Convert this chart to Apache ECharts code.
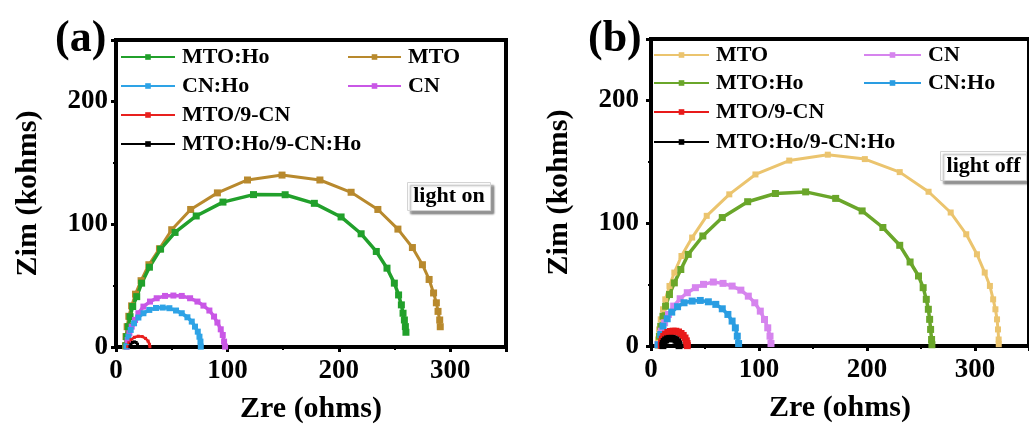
<!DOCTYPE html>
<html>
<head>
<meta charset="utf-8">
<script src="https://cdn.jsdelivr.net/npm/echarts@6/dist/echarts.min.js"></script>
<style>
  html, body { margin: 0; padding: 0; background: #fff; }
  #chart { width: 1029px; height: 432px; }
</style>
</head>
<body>
<div id="chart"></div>
<script>
// Nyquist plots, Zre (ohms) vs Zim (kohms): [Zre, Zim] pairs, left to right along each arc.

// (a) light on
const onMtoHo = [[9,1],[9.6,8.4],[11,16.6],[12.6,24.7],[15,33],[18.6,41],[23,52],[30,65],[40,79.7],[53,93.3],[72,106.7],[96,118],[123.4,124.1],[151.8,124],[178,117],[202,105.9],[220,92.2],[233.6,77.8],[243.2,64.2],[249.8,52],[253.6,42.4],[256.1,34.3],[257.6,27.5],[258.8,22],[259.7,16.6],[260.2,12]];
const onMto = [[8.5,1],[9,8.5],[10,16.5],[11.5,25],[14,33.5],[17.5,43],[22.5,54],[29.5,67],[39,80],[50,95.5],[67,112],[91,125.5],[118,136],[149,140],[183,136],[211,126],[235,112],[253,96],[266,81],[275,67],[281,55],[285,44],[287.5,36],[289,29],[290.5,22],[291,16.5]];
const onCnHo = [[9.5,0.5],[11.1,8.4],[13.2,13.9],[16.2,19.3],[20.1,24],[24.6,27.5],[29.9,30.2],[35.9,31.8],[41.9,32.1],[47.9,31.6],[53.9,29.7],[59,27.5],[64.1,24.2],[68,20.7],[70.9,16.6],[73.4,12.5],[74.9,8.4],[75.8,4.4],[76.1,0.3]];
const onCn = [[9.6,0.3],[10.5,5.7],[12,11.2],[14.1,16.6],[17.1,22],[20.1,27.5],[24.6,32.9],[30.5,37],[36.5,39.7],[44,41.6],[51.5,41.9],[59,41.6],[66.5,39.7],[73.1,37],[78.5,33.7],[83.8,29.7],[88,24.8],[91,19.9],[94,14.4],[95.8,9.8],[97,4.4],[97.9,0.3]];
const onMto9Cn = [[10.5,0.3],[11.5,3.5],[13.5,6],[16.5,7.9],[20,8.8],[23.5,8.5],[26.5,7],[28.8,4.8],[30,2.2],[30.4,0.3]];
const onMtoHo9CnHo = [[12.5,0.3],[13.3,2.3],[14.8,3.7],[16.5,4.2],[18.1,3.7],[19.3,2.3],[19.8,0.3]];

// (b) light off
const offMto = [[6.3,0.5],[6.6,5.3],[7.5,13.5],[9,21.7],[11.1,29.9],[13.2,38],[17.1,48.9],[21.6,59.8],[28.2,73.3],[38.1,88.3],[51.6,106],[72.5,123.5],[96.7,139.7],[128,151],[163.7,155.8],[198,152.2],[230.3,141.6],[257,125.6],[277.5,108.7],[291.9,91],[301.8,74.7],[309,59.8],[313.8,48.9],[316.8,38],[318.9,29.9],[320.4,21.7],[321.3,13.5],[321.9,5.3],[322,1.5]];
const offMtoHo = [[7.2,1],[7.8,7.9],[9,16],[11.1,24.2],[13.5,32.4],[17.1,41.9],[21.6,51.4],[27.6,62.3],[34.5,74.6],[48,89.6],[66,104.6],[89.5,117.5],[115.2,124.2],[143.2,125.5],[171,120.2],[195.5,110],[214.7,96.5],[230.3,82],[239.9,68.4],[247.7,57],[252,47.5],[254.9,38],[256.8,29.9],[258,21.7],[258.9,13.5],[259.8,5.3],[260.1,1]];
const offCn = [[6.6,1.2],[9.6,12.1],[12.6,18.9],[16.2,25.7],[21,32.5],[27,38.5],[33.6,43.4],[41.1,47.5],[48.6,50.2],[57.7,52.1],[66.7,51],[75.1,48.8],[83.2,45.5],[90.1,40.6],[96.1,35.2],[101.2,28.4],[105.1,21.6],[108.1,14.8],[110.2,8],[111.1,2]];
const offCnHo = [[6.6,1],[9,9.4],[11.1,16.2],[15,22.2],[19.2,27.6],[24.6,32],[30.6,35.2],[38.1,36.6],[45.6,37.1],[53.1,36],[60,33.9],[66,30.3],[71.2,25.7],[75.1,20.3],[78.1,14.8],[79.9,8],[81.1,2]];
const offMto9Cn = [[9.5,0.5],[9.8,3],[10.5,5.5],[11.8,7.8],[13.5,9.6],[15.6,11],[18,11.8],[20.5,12.1],[23,12],[25.5,11.4],[27.8,10.2],[29.8,8.6],[31.5,6.5],[32.7,4.2],[33.4,2],[33.6,0.3]];
const offMtoHo9CnHo = [[11,0.3],[11.3,2],[12.2,3.6],[13.6,4.9],[15.4,5.8],[17.4,6.2],[19.5,6.2],[21.5,5.7],[23.2,4.7],[24.6,3.3],[25.5,1.7],[26,0.3]];

const FONT = '"Liberation Serif", "Times New Roman", serif';

// series: [panel, label, data, colour, line width, symbol size]
const seriesSpec = [
  [0, 'MTO', onMto, '#b8892d', 3, 7],
  [0, 'MTO:Ho', onMtoHo, '#21a02b', 3.5, 7],
  [0, 'CN', onCn, '#c957e6', 3.5, 6],
  [0, 'CN:Ho', onCnHo, '#2ea3e6', 3.5, 6],
  [0, 'MTO/9-CN', onMto9Cn, '#e8201e', 2.5, 3],
  [0, 'MTO:Ho/9-CN:Ho', onMtoHo9CnHo, '#000000', 2, 3],
  [1, 'MTO', offMto, '#ebc46e', 3, 6],
  [1, 'MTO:Ho', offMtoHo, '#6aa62a', 3.5, 7],
  [1, 'CN', offCn, '#d684ee', 3.5, 7],
  [1, 'CN:Ho', offCnHo, '#2a9de2', 3.5, 7],
  [1, 'MTO/9-CN', offMto9Cn, '#e81a1a', 4.5, 7],
  [1, 'MTO:Ho/9-CN:Ho', offMtoHo9CnHo, '#000000', 4.5, 7]
];

// legend entries: [panel, label, left, top, icon width]
const legendSpec = [
  [0, 'MTO:Ho', 120, 46, 54], [0, 'MTO', 347, 46, 53],
  [0, 'CN:Ho', 120, 75, 54], [0, 'CN', 347, 75, 53],
  [0, 'MTO/9-CN', 120, 104, 54], [0, 'MTO:Ho/9-CN:Ho', 120, 133, 54],
  [1, 'MTO', 653, 44, 55], [1, 'CN', 863, 44, 57],
  [1, 'MTO:Ho', 653, 72, 55], [1, 'CN:Ho', 863, 72, 57],
  [1, 'MTO/9-CN', 653, 101, 55], [1, 'MTO:Ho/9-CN:Ho', 653, 131, 55]
];

const tag = (p, name) => (p === 0 ? 'a|' : 'b|') + name;

const grids = [
  { left: 116, top: 40, width: 390, height: 307 },
  { left: 651, top: 39, width: 389, height: 307 }
];

function xAxisFor(i) {
  return {
    gridIndex: i, type: 'value', min: 0, max: 350, interval: 100,
    name: 'Zre (ohms)', nameLocation: 'middle', nameGap: 47,
    nameTextStyle: { fontFamily: FONT, fontWeight: 'bold', fontSize: 30, color: '#000' },
    axisLine: { show: true, onZero: false, lineStyle: { color: '#000', width: 4 } },
    axisTick: { show: true, inside: false, length: 5, lineStyle: { color: '#000', width: 3 } },
    minorTick: { show: true, splitNumber: 2, length: 3, lineStyle: { color: '#000', width: 2 } },
    axisLabel: { margin: 11, showMaxLabel: false, fontFamily: FONT, fontWeight: 'bold', fontSize: 27, color: '#000' },
    splitLine: { show: false }
  };
}
function yAxisFor(i, gap, margin) {
  return {
    gridIndex: i, type: 'value', min: 0, max: 250, interval: 100,
    name: 'Zim (kohms)', nameLocation: 'middle', nameGap: gap,
    nameTextStyle: { fontFamily: FONT, fontWeight: 'bold', fontSize: 30, color: '#000' },
    axisLine: { show: true, onZero: false, lineStyle: { color: '#000', width: 4 } },
    axisTick: { show: true, inside: false, length: 5, lineStyle: { color: '#000', width: 3 } },
    minorTick: { show: true, splitNumber: 2, length: 3, lineStyle: { color: '#000', width: 2 } },
    axisLabel: { margin: margin, showMaxLabel: false, fontFamily: FONT, fontWeight: 'bold', fontSize: 27, color: '#000' },
    splitLine: { show: false }
  };
}

function infoBox(x, y, w, h, text) {
  return {
    type: 'group', left: x, top: y,
    children: [
      { type: 'rect', shape: { x: 0, y: 0, width: w, height: h },
        style: { fill: '#fff', stroke: '#d4d4d4', lineWidth: 1,
                 shadowBlur: 2, shadowOffsetX: 3, shadowOffsetY: 3, shadowColor: 'rgba(0,0,0,0.4)' } },
      { type: 'text', x: w / 2, y: h / 2,
        style: { text: text, fill: '#000', align: 'center', verticalAlign: 'middle',
                 font: 'bold 22px ' + FONT } }
    ]
  };
}

const chart = echarts.init(document.getElementById('chart'), null, { renderer: 'canvas' });

chart.setOption({
  backgroundColor: '#fff',
  animation: false,
  grid: grids.map(g => Object.assign({ show: true, borderColor: '#000', borderWidth: 4, backgroundColor: 'transparent' }, g)),
  xAxis: [xAxisFor(0), xAxisFor(1)],
  yAxis: [yAxisFor(0, 73, 8), yAxisFor(1, 77, 12)],
  legend: legendSpec.map(([p, name, left, top, w]) => ({
    data: [tag(p, name)], left: left, top: top, padding: 0,
    itemWidth: w, itemHeight: 7, selectedMode: false,
    formatter: n => n.slice(2),
    textStyle: { fontFamily: FONT, fontWeight: 'bold', fontSize: 22, color: '#000', padding: [0, 0, 0, 2] }
  })),
  series: seriesSpec.map(([p, name, data, color, lw, ss]) => ({
    type: 'line', name: tag(p, name), xAxisIndex: p, yAxisIndex: p,
    data: data, smooth: false, clip: true,
    symbol: 'rect', symbolSize: ss, showSymbol: true,
    lineStyle: { color: color, width: lw },
    itemStyle: { color: color, borderWidth: 0 }
  })),
  graphic: [
    { type: 'text', left: 55, top: 18, style: { text: '(a)', fill: '#000', font: 'bold 44px ' + FONT } },
    { type: 'text', left: 588, top: 18, style: { text: '(b)', fill: '#000', font: 'bold 44px ' + FONT } },
    infoBox(407, 182, 83, 28, 'light on'),
    infoBox(940, 151, 86, 29, 'light off')
  ]
});
</script>
</body>
</html>
